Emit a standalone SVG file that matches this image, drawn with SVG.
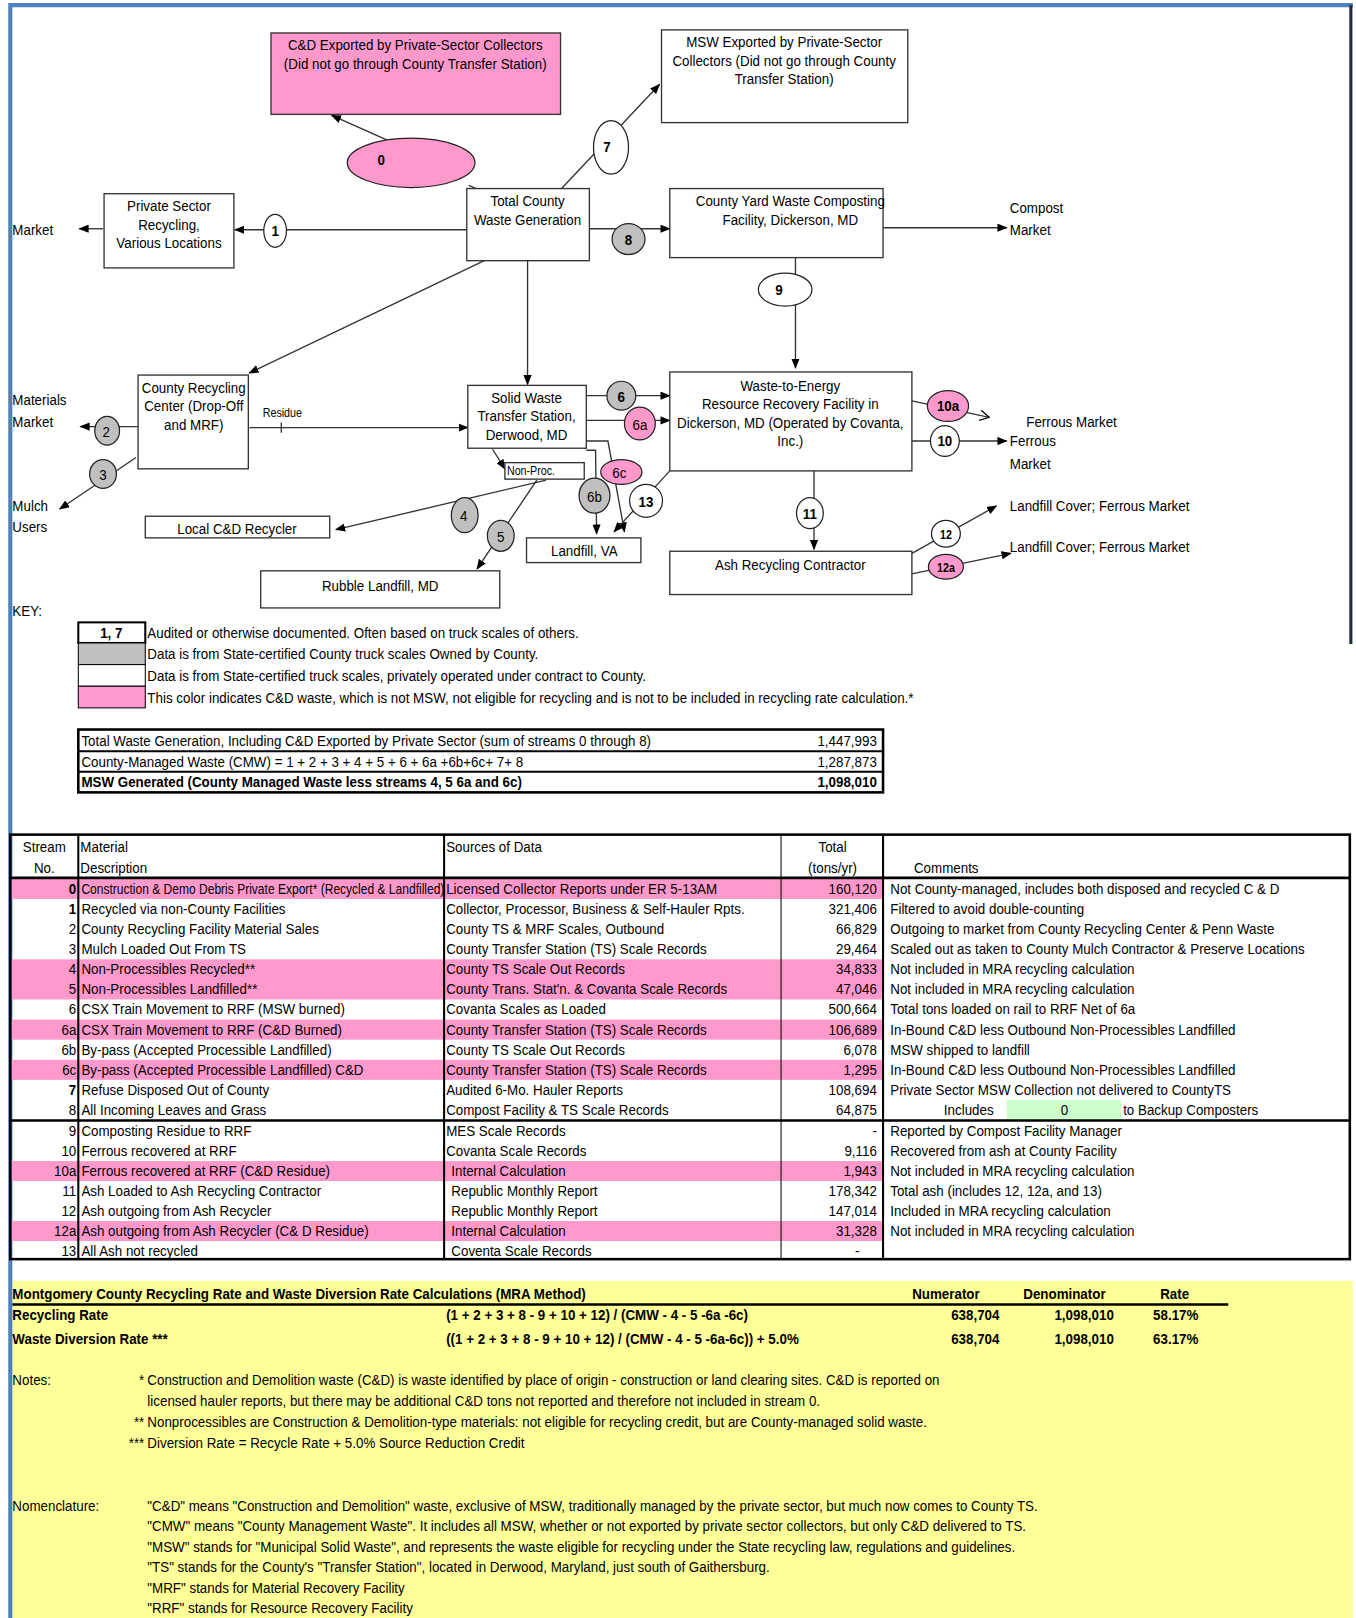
<svg xmlns="http://www.w3.org/2000/svg" width="1356" height="1618" viewBox="0 0 1356 1618">
<defs>
<style>
.t{font-family:'Liberation Sans',Arial,sans-serif;font-size:15px;fill:#000;transform-box:fill-box;transform-origin:0% 50%;transform:scaleX(0.865)}
.m{text-anchor:middle;transform-origin:50% 50%}
.e{text-anchor:end;transform-origin:100% 50%}
.b{font-weight:bold}
.s{font-size:12px}
.sm{font-size:13.5px}
.box{fill:#fff;stroke:#333;stroke-width:1.3}
.pk{fill:#ff99cc}
.gr{fill:#c0c0c0}
.wh{fill:#fff}
.el{stroke:#222;stroke-width:1.2}
.c{fill:none;stroke:#333;stroke-width:1.3}
.tk{stroke:#000;stroke-width:2.5}
</style>
<marker id="a" markerWidth="10" markerHeight="8" refX="9" refY="4" orient="auto" markerUnits="userSpaceOnUse"><path d="M0,0 L10,4 L0,8 z" fill="#000"/></marker>
<marker id="o" markerWidth="12" markerHeight="12" refX="10" refY="6" orient="auto" markerUnits="userSpaceOnUse"><path d="M1,1 L10,6 L1,11" fill="none" stroke="#000" stroke-width="1.2"/></marker>
</defs>
<rect x="0" y="0" width="1356" height="1618" fill="#fff"/>
<g transform="scale(1.0304)">
<rect x="12" y="1243" width="1301" height="338" fill="#ffff99"/>
<path d="M10,1575 V5 H1313" stroke="#4f81bd" stroke-width="4" fill="none"/>
<line x1="1311" y1="5" x2="1311" y2="625" stroke="#1c2a48" stroke-width="3"/>

<g id="connectors">
<line class="c" x1="378" y1="137" x2="322" y2="112" marker-end="url(#a)"/>
<line class="c" x1="455" y1="180" x2="478" y2="190"/>
<line class="c" x1="545" y1="183" x2="640" y2="82" marker-end="url(#a)"/>
<line class="c" x1="453" y1="223" x2="228" y2="223" marker-end="url(#a)"/>
<line class="c" x1="100" y1="222" x2="77" y2="222" marker-end="url(#a)"/>
<line class="c" x1="572" y1="222" x2="650" y2="222" marker-end="url(#a)"/>
<line class="c" x1="857" y1="221" x2="977" y2="221" marker-end="url(#a)"/>
<line class="c" x1="772" y1="250" x2="772" y2="357" marker-end="url(#a)"/>
<line class="c" x1="512" y1="253" x2="512" y2="373" marker-end="url(#a)"/>
<line class="c" x1="470" y1="253" x2="242" y2="362" marker-end="url(#a)"/>
<line class="c" x1="134" y1="414" x2="78" y2="414" marker-end="url(#a)"/>
<line class="c" x1="132" y1="444" x2="58" y2="494" marker-end="url(#a)"/>
<line class="c" x1="242" y1="415" x2="454" y2="415" marker-end="url(#a)"/>
<line class="c" x1="273" y1="410" x2="273" y2="420"/>
<line class="c" x1="569" y1="384" x2="650" y2="384" marker-end="url(#a)"/>
<line class="c" x1="569" y1="408" x2="650" y2="408" marker-end="url(#a)"/>
<polyline class="c" points="569,428 590,428 606,516" marker-end="url(#a)"/>
<polyline class="c" points="569,437 578,437 579,518" marker-end="url(#a)"/>
<line class="c" x1="650" y1="457" x2="596" y2="516" marker-end="url(#a)"/>
<line class="c" x1="478" y1="436" x2="490" y2="455" marker-end="url(#a)"/>
<line class="c" x1="530" y1="466" x2="326" y2="514" marker-end="url(#a)"/>
<line class="c" x1="521" y1="466" x2="463" y2="552" marker-end="url(#a)"/>
<line class="c" x1="885" y1="389" x2="960" y2="405" marker-end="url(#o)"/>
<line class="c" x1="885" y1="428" x2="977" y2="428" marker-end="url(#a)"/>
<line class="c" x1="790" y1="457" x2="790" y2="533" marker-end="url(#a)"/>
<line class="c" x1="885" y1="537" x2="967" y2="491" marker-end="url(#a)"/>
<line class="c" x1="885" y1="557" x2="981" y2="537" marker-end="url(#a)"/>
</g>

<g id="n-cd-export"><rect class="box pk" x="263" y="32" width="281" height="79"/>
<text class="t m" x="403" y="49">C&amp;D Exported by Private-Sector Collectors</text>
<text class="t m" x="403" y="67">(Did not go through  County  Transfer Station)</text></g>
<g id="n-msw-export"><rect class="box" x="642" y="29" width="239" height="90"/>
<text class="t m" x="761" y="46">MSW Exported by Private-Sector</text>
<text class="t m" x="761" y="64">Collectors (Did not go through County</text>
<text class="t m" x="761" y="82">Transfer Station)</text></g>
<g id="n-total"><rect class="box" x="453" y="183" width="119" height="70"/>
<text class="t m" x="512" y="200">Total County</text>
<text class="t m" x="512" y="218">Waste Generation</text></g>
<g id="n-private"><rect class="box" x="101" y="188" width="126" height="72"/>
<text class="t m" x="164" y="205">Private Sector</text>
<text class="t m" x="164" y="223">Recycling,</text>
<text class="t m" x="164" y="241">Various Locations</text></g>
<g id="n-yard"><rect class="box" x="650" y="183" width="207" height="67"/>
<text class="t m" x="767" y="200">County  Yard Waste Composting</text>
<text class="t m" x="767" y="218">Facility, Dickerson, MD</text></g>
<g id="n-recycling"><rect class="box" x="134" y="364" width="107" height="91"/>
<text class="t m" x="188" y="381">County  Recycling</text>
<text class="t m" x="188" y="399">Center (Drop-Off</text>
<text class="t m" x="188" y="417">and MRF)</text></g>
<g id="n-transfer"><rect class="box" x="454" y="374" width="115" height="61"/>
<text class="t m" x="511" y="391">Solid Waste</text>
<text class="t m" x="511" y="409">Transfer Station,</text>
<text class="t m" x="511" y="427">Derwood, MD</text></g>
<g id="n-nonproc"><rect class="box" x="490" y="449" width="77" height="16"/>
<text class="t s" x="492" y="461">Non-Proc.</text></g>
<g id="n-wte"><rect class="box" x="650" y="361" width="235" height="96"/>
<text class="t m" x="767" y="379">Waste-to-Energy</text>
<text class="t m" x="767" y="397">Resource Recovery  Facility  in</text>
<text class="t m" x="767" y="415">Dickerson, MD (Operated by Covanta,</text>
<text class="t m" x="767" y="433">Inc.)</text></g>
<g id="n-ash"><rect class="box" x="650" y="535" width="235" height="42"/>
<text class="t m" x="767" y="553">Ash Recycling Contractor</text></g>
<g id="n-local"><rect class="box" x="141" y="501" width="179" height="21"/>
<text class="t m" x="230" y="518">Local C&amp;D Recycler</text></g>
<g id="n-rubble"><rect class="box" x="253" y="554" width="232" height="36"/>
<text class="t m" x="369" y="574">Rubble  Landfill, MD</text></g>
<g id="n-landfill-va"><rect class="box" x="511" y="522" width="111" height="24"/>
<text class="t m" x="567" y="540">Landfill, VA</text></g>

<g id="labels">
<text class="t" x="12" y="228">Market</text>
<text class="t" x="12" y="393">Materials</text>
<text class="t" x="12" y="414">Market</text>
<text class="t" x="12" y="496">Mulch</text>
<text class="t" x="12" y="516">Users</text>
<text class="t" x="980" y="207">Compost</text>
<text class="t" x="980" y="228">Market</text>
<text class="t" x="996" y="414">Ferrous Market</text>
<text class="t" x="980" y="433">Ferrous</text>
<text class="t" x="980" y="455">Market</text>
<text class="t" x="980" y="496">Landfill Cover; Ferrous Market</text>
<text class="t" x="980" y="536">Landfill Cover; Ferrous Market</text>
<text class="t s" x="255" y="405">Residue</text>
</g>

<g id="s0"><ellipse class="el pk" cx="399" cy="158" rx="62" ry="24"/><text class="t m b" x="370" y="160">0</text></g>
<g id="s7"><ellipse class="el wh" cx="593" cy="143" rx="17" ry="26"/><text class="t m b" x="589" y="148">7</text></g>
<g id="s1"><ellipse class="el wh" cx="267" cy="224" rx="11" ry="16"/><text class="t m b" x="267" y="229">1</text></g>
<g id="s8"><ellipse class="el gr" cx="610" cy="232" rx="16" ry="15"/><text class="t m b" x="610" y="238">8</text></g>
<g id="s9"><ellipse class="el wh" cx="762" cy="281" rx="26" ry="16"/><text class="t m b" x="756" y="286">9</text></g>
<g id="s2"><ellipse class="el gr" cx="104" cy="418" rx="12" ry="14"/><text class="t m" x="103" y="424">2</text></g>
<g id="s3"><ellipse class="el gr" cx="100" cy="460" rx="13" ry="14"/><text class="t m" x="100" y="466">3</text></g>
<g id="s6"><ellipse class="el gr" cx="603" cy="384" rx="14" ry="14"/><text class="t m b" x="603" y="390">6</text></g>
<g id="s6a"><ellipse class="el pk" cx="621" cy="411" rx="15" ry="16"/><text class="t m" x="621" y="417">6a</text></g>
<g id="s6c"><ellipse class="el pk" cx="603" cy="458" rx="20" ry="12"/><text class="t m" x="601" y="464">6c</text></g>
<g id="s6b"><ellipse class="el gr" cx="577" cy="481" rx="15" ry="17"/><text class="t m" x="577" y="487">6b</text></g>
<g id="s13"><ellipse class="el wh" cx="627" cy="486" rx="16" ry="16"/><text class="t m b" x="627" y="492">13</text></g>
<g id="s4"><ellipse class="el gr" cx="451" cy="500" rx="13" ry="17"/><text class="t m" x="450" y="506">4</text></g>
<g id="s5"><ellipse class="el gr" cx="486" cy="520" rx="13" ry="15"/><text class="t m" x="486" y="526">5</text></g>
<g id="s10a"><ellipse class="el pk" cx="920" cy="394" rx="20" ry="15"/><text class="t m b" x="920" y="399">10a</text></g>
<g id="s10"><ellipse class="el wh" cx="917" cy="428" rx="14" ry="15"/><text class="t m b" x="917" y="433">10</text></g>
<g id="s11"><ellipse class="el wh" cx="786" cy="498" rx="13" ry="15"/><text class="t m b" x="786" y="504">11</text></g>
<g id="s12"><ellipse class="el wh" cx="918" cy="518" rx="14" ry="13"/><text class="t m b" x="918" y="523" style="font-size:12px">12</text></g>
<g id="s12a"><ellipse class="el pk" cx="918" cy="550" rx="17" ry="12"/><text class="t m b" x="918" y="555" style="font-size:12px">12a</text></g>

<g id="key">
<text class="t" x="12" y="598">KEY:</text>
<rect x="76" y="604" width="65" height="20" fill="#fff" stroke="#000" stroke-width="2"/>
<text class="t m b" x="108" y="619">1, 7</text>
<rect x="76" y="624" width="65" height="21" fill="#c0c0c0" stroke="#000" stroke-width="1"/>
<rect x="76" y="645" width="65" height="21" fill="#fff" stroke="#000" stroke-width="1"/>
<rect x="76" y="666" width="65" height="21" fill="#ff99cc" stroke="#000" stroke-width="1"/>
<text class="t" x="143" y="619">Audited or otherwise documented.  Often based on truck scales of others.</text>
<text class="t" x="143" y="640">Data is from State-certified County truck scales Owned by County.</text>
<text class="t" x="143" y="661">Data is from State-certified truck scales, privately operated under contract to County.</text>
<text class="t" x="143" y="682">This color indicates C&amp;D waste, which is not MSW, not eligible for recycling and is not to be included in recycling rate calculation.*</text>
</g>

<g id="summary">
<rect x="76" y="708" width="781" height="61" fill="#fff" stroke="#000" stroke-width="2.5"/>
<line x1="76" y1="729" x2="857" y2="729" stroke="#000" stroke-width="2"/>
<line x1="76" y1="749" x2="857" y2="749" stroke="#000" stroke-width="2"/>
<text class="t" x="79" y="724">Total Waste Generation, Including C&amp;D Exported by Private Sector (sum of streams 0 through 8)</text>
<text class="t e" x="851" y="724">1,447,993</text>
<text class="t" x="79" y="744">County-Managed Waste (CMW) = 1 + 2 + 3 + 4 + 5 + 6 + 6a +6b+6c+ 7+ 8</text>
<text class="t e" x="851" y="744">1,287,873</text>
<text class="t b" x="79" y="764">MSW Generated (County Managed Waste less streams 4, 5 6a and 6c)</text>
<text class="t e b" x="851" y="764">1,098,010</text>
</g>

<g id="table">
<rect x="11" y="853" width="846" height="19.5" class="pk"/>
<rect x="11" y="931" width="846" height="39" class="pk"/>
<rect x="11" y="989.5" width="846" height="19.5" class="pk"/>
<rect x="11" y="1028.5" width="846" height="19.5" class="pk"/>
<rect x="11" y="1126.8" width="846" height="19.4" class="pk"/>
<rect x="11" y="1185" width="846" height="19.4" class="pk"/>
<rect x="977" y="1067.5" width="111" height="19.5" fill="#ccffcc"/>
<rect x="10" y="810" width="1300" height="412" fill="none" stroke="#000" stroke-width="2.5"/>
<line class="tk" x1="10" y1="852" x2="1310" y2="852"/>
<line class="tk" x1="10" y1="1087.5" x2="1310" y2="1087.5"/>
<line x1="76" y1="810" x2="76" y2="1222" stroke="#000" stroke-width="2"/>
<line x1="431" y1="810" x2="431" y2="1222" stroke="#000" stroke-width="2"/>
<line x1="758" y1="810" x2="758" y2="1222" stroke="#000" stroke-width="1"/>
<line x1="857" y1="810" x2="857" y2="1222" stroke="#000" stroke-width="2"/>
<text class="t m" x="43" y="827">Stream</text>
<text class="t m" x="43" y="847">No.</text>
<text class="t" x="78" y="827">Material</text>
<text class="t" x="78" y="847">Description</text>
<text class="t" x="433" y="827">Sources of Data</text>
<text class="t m" x="808" y="827">Total</text>
<text class="t m" x="808" y="847">(tons/yr)</text>
<text class="t" x="887" y="847">Comments</text>

<text class="t e b" x="74" y="867.5">0</text><text class="t sm" x="79" y="867.5">Construction &amp; Demo Debris Private Export* (Recycled &amp; Landfilled)</text><text class="t" x="433" y="867.5">Licensed Collector Reports under ER 5-13AM</text><text class="t e" x="851" y="867.5">160,120</text><text class="t" x="864" y="867.5">Not County-managed, includes both disposed and recycled C &amp; D</text>
<text class="t e b" x="74" y="887">1</text><text class="t" x="79" y="887">Recycled via non-County Facilities</text><text class="t" x="433" y="887">Collector, Processor, Business &amp; Self-Hauler Rpts.</text><text class="t e" x="851" y="887">321,406</text><text class="t" x="864" y="887">Filtered to avoid double-counting</text>
<text class="t e" x="74" y="906.5">2</text><text class="t" x="79" y="906.5">County Recycling Facility Material Sales</text><text class="t" x="433" y="906.5">County TS &amp; MRF Scales, Outbound</text><text class="t e" x="851" y="906.5">66,829</text><text class="t" x="864" y="906.5">Outgoing to market from County Recycling Center &amp; Penn Waste</text>
<text class="t e" x="74" y="926">3</text><text class="t" x="79" y="926">Mulch Loaded Out From TS</text><text class="t" x="433" y="926">County Transfer Station (TS) Scale Records</text><text class="t e" x="851" y="926">29,464</text><text class="t" x="864" y="926">Scaled out as taken to County Mulch Contractor &amp; Preserve Locations</text>
<text class="t e" x="74" y="945.5">4</text><text class="t" x="79" y="945.5">Non-Processibles Recycled**</text><text class="t" x="433" y="945.5">County TS Scale Out Records</text><text class="t e" x="851" y="945.5">34,833</text><text class="t" x="864" y="945.5">Not included in MRA recycling calculation</text>
<text class="t e" x="74" y="965">5</text><text class="t" x="79" y="965">Non-Processibles Landfilled**</text><text class="t" x="433" y="965">County Trans. Stat'n. &amp; Covanta Scale Records</text><text class="t e" x="851" y="965">47,046</text><text class="t" x="864" y="965">Not included in MRA recycling calculation</text>
<text class="t e" x="74" y="984.5">6</text><text class="t" x="79" y="984.5">CSX Train Movement to RRF (MSW burned)</text><text class="t" x="433" y="984.5">Covanta Scales as Loaded</text><text class="t e" x="851" y="984.5">500,664</text><text class="t" x="864" y="984.5">Total tons loaded on rail to RRF Net of 6a</text>
<text class="t e" x="74" y="1004">6a</text><text class="t" x="79" y="1004">CSX Train Movement to RRF (C&amp;D Burned)</text><text class="t" x="433" y="1004">County Transfer Station (TS) Scale Records</text><text class="t e" x="851" y="1004">106,689</text><text class="t" x="864" y="1004">In-Bound C&amp;D less Outbound Non-Processibles Landfilled</text>
<text class="t e" x="74" y="1023.5">6b</text><text class="t" x="79" y="1023.5">By-pass (Accepted Processible Landfilled)</text><text class="t" x="433" y="1023.5">County TS Scale Out Records</text><text class="t e" x="851" y="1023.5">6,078</text><text class="t" x="864" y="1023.5">MSW shipped to landfill</text>
<text class="t e" x="74" y="1043">6c</text><text class="t" x="79" y="1043">By-pass (Accepted Processible Landfilled)  C&amp;D</text><text class="t" x="433" y="1043">County Transfer Station (TS) Scale Records</text><text class="t e" x="851" y="1043">1,295</text><text class="t" x="864" y="1043">In-Bound C&amp;D less Outbound Non-Processibles Landfilled</text>
<text class="t e b" x="74" y="1062.5">7</text><text class="t" x="79" y="1062.5">Refuse Disposed Out of County</text><text class="t" x="433" y="1062.5">Audited 6-Mo. Hauler Reports</text><text class="t e" x="851" y="1062.5">108,694</text><text class="t" x="864" y="1062.5">Private Sector MSW Collection not delivered to CountyTS</text>
<text class="t e" x="74" y="1082">8</text><text class="t" x="79" y="1082">All Incoming Leaves and Grass</text><text class="t" x="433" y="1082">Compost Facility &amp; TS Scale Records</text><text class="t e" x="851" y="1082">64,875</text><text class="t" x="916" y="1082">Includes</text><text class="t m" x="1033" y="1082">0</text><text class="t" x="1090" y="1082">to Backup Composters</text>
<text class="t e" x="74" y="1102.5">9</text><text class="t" x="79" y="1102.5">Composting Residue to RRF</text><text class="t" x="433" y="1102.5">MES  Scale Records</text><text class="t e" x="851" y="1102.5">-</text><text class="t" x="864" y="1102.5">Reported by Compost Facility Manager</text>
<text class="t e" x="74" y="1121.9">10</text><text class="t" x="79" y="1121.9">Ferrous recovered at RRF</text><text class="t" x="433" y="1121.9">Covanta Scale Records</text><text class="t e" x="851" y="1121.9">9,116</text><text class="t" x="864" y="1121.9">Recovered from ash at County Facility</text>
<text class="t e" x="74" y="1141.3">10a</text><text class="t" x="79" y="1141.3">Ferrous recovered at RRF (C&amp;D Residue)</text><text class="t" x="438" y="1141.3">Internal Calculation</text><text class="t e" x="851" y="1141.3">1,943</text><text class="t" x="864" y="1141.3">Not included in MRA recycling calculation</text>
<text class="t e" x="74" y="1160.7">11</text><text class="t" x="79" y="1160.7">Ash Loaded to Ash Recycling Contractor</text><text class="t" x="438" y="1160.7">Republic Monthly Report</text><text class="t e" x="851" y="1160.7">178,342</text><text class="t" x="864" y="1160.7">Total ash (includes 12, 12a, and 13)</text>
<text class="t e" x="74" y="1180.1">12</text><text class="t" x="79" y="1180.1">Ash outgoing from Ash Recycler</text><text class="t" x="438" y="1180.1">Republic Monthly Report</text><text class="t e" x="851" y="1180.1">147,014</text><text class="t" x="864" y="1180.1">Included in MRA recycling calculation</text>
<text class="t e" x="74" y="1199.5">12a</text><text class="t" x="79" y="1199.5">Ash outgoing from Ash Recycler  (C&amp; D Residue)</text><text class="t" x="438" y="1199.5">Internal Calculation</text><text class="t e" x="851" y="1199.5">31,328</text><text class="t" x="864" y="1199.5">Not included in MRA recycling calculation</text>
<text class="t e" x="74" y="1218.9">13</text><text class="t" x="79" y="1218.9">All Ash not recycled</text><text class="t" x="438" y="1218.9">Coventa Scale Records</text><text class="t e" x="834" y="1218.9">-</text>
</g>

<g id="rates">
<text class="t b" x="12" y="1261">Montgomery County Recycling Rate and Waste Diversion Rate Calculations (MRA Method)</text>
<text class="t m b" x="918" y="1261">Numerator</text>
<text class="t m b" x="1033" y="1261">Denominator</text>
<text class="t m b" x="1140" y="1261">Rate</text>
<line x1="12" y1="1266" x2="1192" y2="1266" stroke="#000" stroke-width="2.5"/>
<text class="t b" x="12" y="1281">Recycling Rate</text>
<text class="t b" x="433" y="1281">(1 + 2 + 3  + 8 - 9 + 10 + 12) / (CMW - 4 - 5 -6a -6c)</text>
<text class="t e b" x="970" y="1281">638,704</text>
<text class="t e b" x="1081" y="1281">1,098,010</text>
<text class="t e b" x="1163" y="1281">58.17%</text>
<text class="t b" x="12" y="1304">Waste Diversion Rate  ***</text>
<text class="t b" x="433" y="1304">((1 + 2 + 3  + 8 - 9 + 10 + 12) / (CMW - 4 - 5 -6a-6c)) + 5.0%</text>
<text class="t e b" x="970" y="1304">638,704</text>
<text class="t e b" x="1081" y="1304">1,098,010</text>
<text class="t e b" x="1163" y="1304">63.17%</text>
</g>

<g id="notes">
<text class="t" x="12" y="1344">Notes:</text>
<text class="t e" x="140" y="1344">*</text>
<text class="t" x="143" y="1344">Construction and Demolition waste (C&amp;D) is waste identified by place of origin - construction or land clearing sites. C&amp;D is reported on</text>
<text class="t" x="143" y="1365">licensed hauler reports, but there may be additional C&amp;D tons not reported and therefore not included in stream 0.</text>
<text class="t e" x="140" y="1385">**</text>
<text class="t" x="143" y="1385">Nonprocessibles are Construction &amp; Demolition-type materials: not eligible for recycling credit, but are County-managed solid waste.</text>
<text class="t e" x="140" y="1405">***</text>
<text class="t" x="143" y="1405">Diversion Rate = Recycle Rate + 5.0% Source Reduction Credit</text>
<text class="t" x="12" y="1466">Nomenclature:</text>
<text class="t" x="143" y="1466">"C&amp;D" means "Construction and Demolition" waste, exclusive of MSW, traditionally managed by the private sector, but much now comes to County TS.</text>
<text class="t" x="143" y="1486">"CMW" means "County Management Waste".  It includes all MSW, whether or not exported by private sector collectors, but only C&amp;D delivered to TS.</text>
<text class="t" x="143" y="1506">"MSW" stands for "Municipal Solid Waste", and represents the waste eligible for recycling under the State recycling law, regulations and guidelines.</text>
<text class="t" x="143" y="1526">"TS" stands for the County's "Transfer Station", located in Derwood, Maryland, just south of Gaithersburg.</text>
<text class="t" x="143" y="1546">"MRF" stands for Material Recovery Facility</text>
<text class="t" x="143" y="1565">"RRF" stands for Resource Recovery Facility</text>
</g>
</g>
</svg>
